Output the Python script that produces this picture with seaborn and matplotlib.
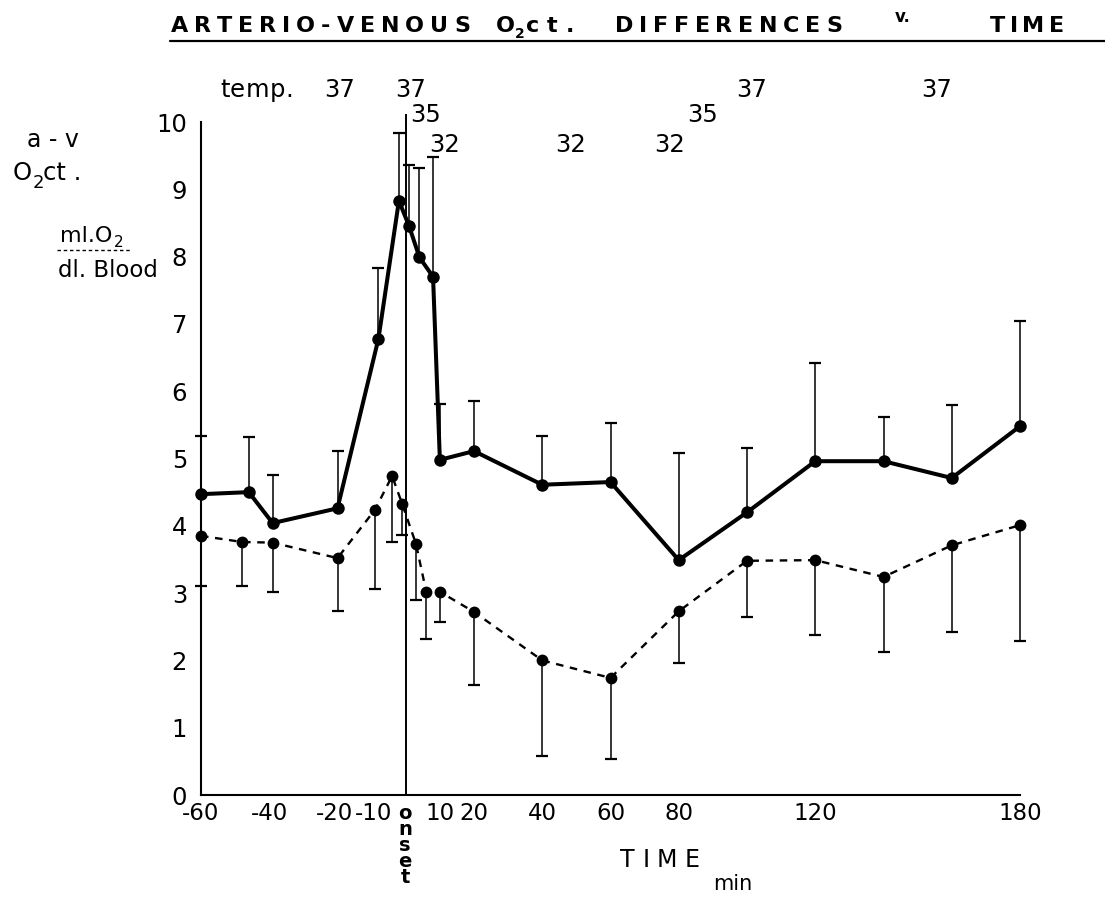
import numpy as np
import pandas as pd
import matplotlib
matplotlib.use("Agg")
import matplotlib.pyplot as plt
from matplotlib.transforms import IdentityTransform, Affine2D
from matplotlib.lines import Line2D
import seaborn as sns

# ---------------- data ----------------
solid_time = [-60, -46, -39, -20, -8, -2, 1, 4, 8, 10, 20, 40, 60, 80, 100, 120, 140, 160, 180]
solid_mean = [4.47, 4.50, 4.04, 4.26, 6.78, 8.83, 8.45, 7.99, 7.70, 4.98, 5.11, 4.61, 4.65, 3.49,
              4.20, 4.96, 4.96, 4.71, 5.48]
solid_upper = [5.33, 5.32, 4.75, 5.11, 7.83, 9.84, 9.36, 9.32, 9.48, 5.81, 5.85, 5.33, 5.53, 5.08,
               5.15, 6.42, 5.62, 5.79, 7.04]

dash_time = [-60, -48, -39, -20, -9, -4, -1, 3, 6, 10, 20, 40, 60, 80, 100, 120, 140, 160, 180]
dash_mean = [3.85, 3.76, 3.75, 3.52, 4.24, 4.74, 4.32, 3.73, 3.02, 3.02, 2.72, 2.00, 1.74, 2.73,
             3.48, 3.49, 3.24, 3.71, 4.01]
dash_lower = [3.10, 3.10, 3.02, 2.73, 3.06, 3.76, 3.86, 2.90, 2.32, 2.57, 1.63, 0.58, 0.53, 1.96,
              2.64, 2.37, 2.12, 2.42, 2.29]

xtick_values = [-60, -40, -20, -10, 10, 20, 40, 60, 80, 120, 180]
xtick_labels = ["-60", "-40", "-20", "-10", "10", "20", "40", "60", "80", "120", "180"]
ytick_values = list(range(0, 11))

temp_labels = ["37", "37", "35", "32", "32", "32", "35", "37", "37"]
temp_x = [-19.4, 1.5, 5.9, 11.4, 48.4, 77.4, 87.1, 101.5, 155.7]
temp_y = [10.37, 10.37, 10.0, 9.55, 9.55, 9.55, 10.0, 10.37, 10.37]

# ---------------- style ----------------
sns.set_style("white")
plt.rcParams["font.family"] = ["DejaVu Sans"]
plt.rcParams["text.color"] = "black"
plt.rcParams["xtick.color"] = "black"
plt.rcParams["ytick.color"] = "black"
plt.rcParams["axes.labelcolor"] = "black"

W, H = 1105, 897
fig = plt.figure(figsize=(W / 100, H / 100), dpi=100)
ax = fig.add_axes([201 / W, 1 - 795 / H, (1020 - 201) / W, (795 - 122) / H])

solid_df = pd.DataFrame({"time": solid_time, "value": solid_mean})
dash_df = pd.DataFrame({"time": dash_time, "value": dash_mean})

sns.lineplot(data=solid_df, x="time", y="value", ax=ax, color="black", linewidth=2.9,
             marker="o", markersize=9, markeredgewidth=0, errorbar=None)
sns.lineplot(data=dash_df, x="time", y="value", ax=ax, color="black", linewidth=1.7,
             marker="o", markersize=8.5, markeredgewidth=0, errorbar=None)
ax.lines[1].set_linestyle((0, (3.2, 2.8)))
for ln in ax.lines:
    ln.set_clip_on(False)

# error bars (one-sided)
ax.vlines(solid_time, solid_mean, solid_upper, colors="black", linewidth=1.1, clip_on=False)
ax.plot(solid_time, solid_upper, ls="none", marker="_", ms=8, mew=1.6, color="black", clip_on=False)
ax.vlines(dash_time, dash_lower, dash_mean, colors="black", linewidth=1.1, clip_on=False)
ax.plot(dash_time, dash_lower, ls="none", marker="_", ms=8, mew=1.6, color="black", clip_on=False)

# onset line
ax.vlines([0], 0, 10.12, colors="black", linewidth=1.4, clip_on=False)

ax.set_xlim(-60, 180)
ax.set_ylim(0, 10)
ax.set_xlabel("")
ax.set_ylabel("")
for s in ["top", "right"]:
    ax.spines[s].set_visible(False)
for s in ["left", "bottom"]:
    ax.spines[s].set_linewidth(1.5)
    ax.spines[s].set_color("black")

ax.set_yticks(ytick_values)
ax.set_yticklabels([str(v) for v in ytick_values])
ax.tick_params(axis="y", direction="out", length=3, width=1.2, labelsize=17.5, pad=7,
               colors="black")
ax.set_xticks(xtick_values)
ax.set_xticklabels(xtick_labels)
ax.set_xticks(list(range(-60, 181, 10)), minor=True)
ax.tick_params(axis="x", which="both", direction="in", length=4, width=1.2, labelsize=16.5,
               pad=5, colors="black")
for lbl in ax.get_xticklabels():
    if lbl.get_text() == "-20":
        lbl.set_transform(lbl.get_transform() + Affine2D().translate(-3, 0))
    elif lbl.get_text() == "-10":
        lbl.set_transform(lbl.get_transform() + Affine2D().translate(2, 0))

# temperature annotations
for lab, tx, ty in zip(temp_labels, temp_x, temp_y):
    ax.text(tx, ty, lab, ha="center", va="baseline", fontsize=17.5, clip_on=False)

# ---------------- helpers for pixel-positioned text ----------------
ID = IdentityTransform()


def ptext(x, base, s, **kw):
    kw.setdefault("va", "baseline")
    return fig.text(x, H - base, s, transform=ID, **kw)


def spaced(s, x0, x1, base, **kw):
    r = fig.canvas.get_renderer()
    arts = [fig.text(0, 0, c, transform=ID, va="baseline", ha="left", **kw) for c in s]
    ws = [a.get_window_extent(r).width for a in arts]
    gap = max((x1 - x0 - sum(ws)) / max(len(s) - 1, 1), 0.5)
    x = x0
    for a, w in zip(arts, ws):
        a.set_position((x, H - base))
        x += w + gap


# title
TS = 16
spaced("ARTERIO-VENOUS", 171, 470, 32, fontsize=TS, fontweight="bold")
ptext(496, 32, "O", fontsize=TS, fontweight="bold")
ptext(515, 38, "2", fontsize=10, fontweight="bold")
spaced("ct.", 526, 574, 32, fontsize=TS, fontweight="bold")
spaced("DIFFERENCES", 615, 842, 32, fontsize=TS, fontweight="bold")
ptext(895, 22, "v.", fontsize=12, fontweight="bold")
spaced("TIME", 990, 1064, 32, fontsize=TS, fontweight="bold")
fig.add_artist(Line2D([170, 1105], [H - 41, H - 41], transform=ID, color="black", lw=1.6))

# y label block
ptext(27, 147, "a - v", fontsize=17)
ptext(13, 180, "O", fontsize=17.5)
ptext(33, 188, "2", fontsize=13)
ptext(43, 180, "ct .", fontsize=17.5)
ptext(60, 242, "ml.O", fontsize=16)
ptext(114, 247, "2", fontsize=11)
fig.add_artist(Line2D([57, 132], [H - 250, H - 250], transform=ID, color="black", lw=1.0,
                      linestyle=(0, (2.5, 2.0))))
ptext(58, 277, "dl. Blood", fontsize=16.5)

# temp. label
spaced("temp.", 220, 290, 97, fontsize=17.5)

# onset (stacked letters under 0)
fig.text(405, H - 804, "o\nn\ns\ne\nt", transform=ID, ha="center", va="top",
         multialignment="center", fontsize=14, fontweight="bold", linespacing=0.8)

# x axis label
spaced("TIME", 620, 700, 867, fontsize=17)
ptext(713, 890, "min", fontsize=15)

fig.savefig("out.png", dpi=100)
